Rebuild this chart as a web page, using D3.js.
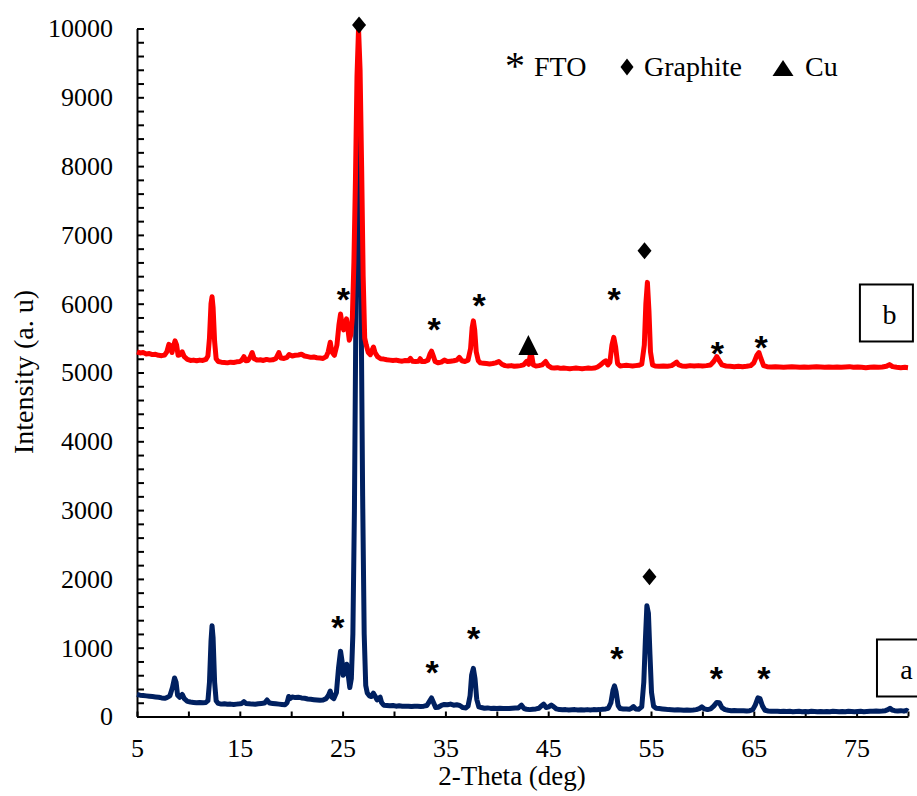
<!DOCTYPE html>
<html>
<head>
<meta charset="utf-8">
<script src="https://cdn.jsdelivr.net/npm/d3@7"></script>
<style>
  html, body { margin: 0; padding: 0; background: #fff; }
  svg { display: block; }
  .serif { font-family: "Liberation Serif", "Times New Roman", "DejaVu Serif", serif; }
</style>
</head>
<body>
<div id="chart"></div>
<script>
// XRD patterns: (a) lower trace, (b) upper trace, intensities in a.u. vs 2θ (deg)
const patternA = [
  [5.0,320],[5.3,310],[5.6,305],[5.9,300],[6.2,295],[6.5,290],[6.8,285],[7.1,280],[7.4,270],[7.7,265],
  [7.9,275],[8.2,300],[8.45,420],[8.65,560],[8.8,500],[8.95,310],[9.15,280],[9.4,320],[9.6,260],[9.9,220],
  [10.2,210],[10.5,205],[10.8,200],[11.1,205],[11.4,200],[11.7,205],[11.9,230],[12.05,500],[12.2,1100],[12.3,1320],
  [12.4,1150],[12.55,500],[12.7,230],[12.9,190],[13.2,180],[13.5,185],[13.8,178],[14.1,180],[14.4,175],[14.7,180],
  [15.0,185],[15.2,190],[15.4,215],[15.6,190],[15.9,185],[16.2,180],[16.5,178],[16.8,185],[17.1,190],[17.4,195],
  [17.65,240],[17.9,195],[18.2,190],[18.5,185],[18.8,180],[19.1,175],[19.4,170],[19.6,200],[19.75,290],[19.9,260],
  [20.1,285],[20.4,275],[20.7,280],[21.0,270],[21.3,265],[21.6,255],[21.9,250],[22.2,245],[22.5,240],[22.8,235],
  [23.1,240],[23.4,260],[23.6,300],[23.8,370],[23.95,280],[24.15,260],[24.4,350],[24.6,700],[24.8,950],[24.95,800],
  [25.05,600],[25.2,630],[25.4,760],[25.55,600],[25.7,420],[25.85,550],[26.0,1200],[26.15,3000],[26.3,6000],[26.45,8500],
  [26.55,9500],[26.65,8500],[26.8,6000],[26.95,3200],[27.1,1200],[27.25,450],[27.4,340],[27.6,300],[27.8,290],[28.0,340],
  [28.15,300],[28.35,240],[28.55,270],[28.65,280],[28.8,200],[29.0,165],[29.3,160],[29.6,155],[29.9,160],[30.2,150],
  [30.5,155],[30.8,150],[31.1,148],[31.4,150],[31.7,145],[32.0,150],[32.3,148],[32.6,145],[32.9,150],[33.2,160],
  [33.45,220],[33.65,270],[33.85,200],[34.05,130],[34.3,135],[34.6,160],[34.9,175],[35.2,170],[35.5,180],[35.8,165],
  [36.1,170],[36.4,160],[36.7,130],[37.0,125],[37.2,150],[37.4,300],[37.55,600],[37.72,700],[37.88,550],[38.05,250],
  [38.25,140],[38.5,130],[38.8,120],[39.1,125],[39.4,118],[39.7,120],[40.0,115],[40.3,120],[40.6,115],[40.9,118],
  [41.2,115],[41.5,120],[41.8,125],[42.1,125],[42.4,165],[42.65,115],[42.9,105],[43.2,100],[43.5,105],[43.8,110],
  [44.1,120],[44.3,150],[44.55,180],[44.8,130],[45.05,140],[45.3,165],[45.55,140],[45.8,110],[46.1,100],[46.4,98],
  [46.7,100],[47.0,95],[47.3,98],[47.6,100],[47.9,95],[48.2,98],[48.5,95],[48.8,100],[49.1,96],[49.4,100],
  [49.7,98],[50.0,100],[50.3,105],[50.6,110],[50.85,120],[51.1,200],[51.3,380],[51.45,445],[51.6,360],[51.8,160],
  [52.0,115],[52.3,110],[52.6,108],[52.9,105],[53.1,120],[53.3,145],[53.5,110],[53.8,105],[54.1,140],[54.3,500],
  [54.45,1100],[54.6,1610],[54.75,1500],[54.9,900],[55.05,350],[55.25,150],[55.5,120],[55.8,115],[56.1,110],[56.4,105],
  [56.7,100],[57.0,98],[57.3,95],[57.6,98],[57.9,95],[58.2,92],[58.5,95],[58.8,92],[59.1,95],[59.4,100],
  [59.7,115],[59.95,140],[60.2,110],[60.5,100],[60.8,110],[61.1,150],[61.4,205],[61.65,200],[61.9,130],[62.2,100],
  [62.5,90],[62.8,85],[63.1,88],[63.4,85],[63.7,82],[64.0,85],[64.3,80],[64.6,85],[64.9,100],[65.15,170],
  [65.4,270],[65.6,260],[65.85,150],[66.1,90],[66.4,80],[66.7,75],[67.0,78],[67.3,75],[67.6,72],[67.9,75],
  [68.2,72],[68.5,75],[68.8,70],[69.1,72],[69.4,75],[69.7,70],[70.0,72],[70.3,70],[70.6,75],[70.9,72],
  [71.2,70],[71.5,74],[71.8,70],[72.1,72],[72.4,70],[72.7,75],[73.0,72],[73.3,70],[73.6,72],[73.9,70],
  [74.2,75],[74.5,72],[74.8,70],[75.1,72],[75.4,75],[75.7,70],[76.0,72],[76.3,75],[76.6,78],[76.9,80],
  [77.2,78],[77.5,80],[77.8,85],[78.05,100],[78.25,120],[78.45,95],[78.7,85],[79.0,80],[79.3,85],[79.6,78],
  [79.85,90],[80.0,75]
];

const patternB = [
  [5.0,5300],[5.3,5285],[5.6,5290],[5.9,5270],[6.2,5275],[6.5,5260],[6.8,5265],[7.1,5250],[7.4,5245],[7.7,5255],
  [7.9,5300],[8.1,5410],[8.25,5390],[8.4,5290],[8.55,5380],[8.7,5460],[8.85,5400],[9.0,5250],[9.2,5260],[9.4,5300],
  [9.6,5230],[9.9,5190],[10.2,5175],[10.5,5180],[10.8,5170],[11.1,5180],[11.4,5175],[11.7,5190],[11.9,5240],[12.05,5500],
  [12.2,6000],[12.3,6100],[12.4,5950],[12.55,5450],[12.7,5200],[12.9,5160],[13.2,5150],[13.5,5145],[13.8,5140],[14.1,5150],
  [14.4,5145],[14.7,5155],[15.0,5160],[15.2,5180],[15.4,5230],[15.6,5170],[15.8,5175],[16.0,5220],[16.2,5290],[16.4,5200],
  [16.7,5180],[17.0,5185],[17.3,5175],[17.6,5190],[17.9,5180],[18.2,5185],[18.5,5200],[18.8,5290],[19.0,5210],[19.3,5205],
  [19.6,5220],[19.8,5260],[20.1,5240],[20.4,5250],[20.7,5255],[21.0,5265],[21.3,5240],[21.6,5230],[21.9,5220],[22.2,5225],
  [22.5,5215],[22.8,5210],[23.1,5205],[23.4,5230],[23.6,5300],[23.8,5440],[23.95,5300],[24.2,5250],[24.45,5400],[24.65,5700],
  [24.8,5850],[24.95,5700],[25.1,5620],[25.25,5700],[25.38,5780],[25.5,5650],[25.65,5470],[25.8,5550],[25.95,5800],[26.1,6600],
  [26.25,7800],[26.4,9300],[26.55,10000],[26.7,9400],[26.85,8000],[27.0,6400],[27.15,5500],[27.3,5400],[27.5,5290],[27.7,5260],
  [27.85,5320],[28.0,5370],[28.15,5290],[28.4,5230],[28.7,5200],[29.0,5195],[29.3,5185],[29.6,5180],[29.9,5175],[30.2,5180],
  [30.5,5170],[30.8,5165],[31.1,5175],[31.4,5170],[31.6,5205],[31.8,5165],[32.1,5160],[32.4,5165],[32.55,5200],[32.7,5160],
  [33.0,5160],[33.3,5180],[33.5,5270],[33.65,5310],[33.8,5250],[34.0,5160],[34.3,5140],[34.6,5150],[34.9,5180],[35.2,5160],
  [35.5,5165],[35.8,5170],[36.1,5180],[36.35,5220],[36.6,5170],[36.9,5160],[37.2,5180],[37.45,5350],[37.6,5650],[37.72,5750],
  [37.85,5620],[38.0,5300],[38.2,5170],[38.4,5140],[38.7,5135],[39.0,5130],[39.3,5125],[39.6,5130],[39.9,5140],[40.2,5160],
  [40.5,5120],[40.8,5100],[41.1,5095],[41.4,5100],[41.7,5090],[42.0,5095],[42.3,5100],[42.6,5110],[42.9,5160],[43.1,5120],
  [43.25,5250],[43.4,5240],[43.55,5110],[43.8,5095],[44.1,5100],[44.4,5110],[44.75,5160],[45.0,5100],[45.3,5070],[45.6,5065],
  [45.9,5070],[46.2,5060],[46.5,5065],[46.8,5060],[47.1,5055],[47.4,5060],[47.7,5065],[48.0,5060],[48.3,5055],[48.6,5060],
  [48.9,5065],[49.2,5060],[49.5,5065],[49.8,5080],[50.1,5110],[50.4,5150],[50.6,5170],[50.8,5110],[51.0,5150],[51.2,5400],
  [51.38,5510],[51.55,5380],[51.75,5130],[52.0,5095],[52.3,5100],[52.6,5105],[52.9,5100],[53.2,5095],[53.5,5100],[53.8,5105],
  [54.1,5120],[54.35,5400],[54.5,6000],[54.65,6310],[54.8,5900],[54.95,5300],[55.15,5110],[55.4,5095],[55.8,5090],[56.2,5095],
  [56.6,5090],[57.0,5100],[57.3,5130],[57.5,5150],[57.7,5110],[58.0,5095],[58.4,5090],[58.8,5100],[59.2,5095],[59.6,5100],
  [60.0,5095],[60.4,5100],[60.8,5110],[61.1,5160],[61.4,5230],[61.65,5170],[61.9,5110],[62.3,5095],[62.7,5090],[63.1,5085],
  [63.5,5090],[63.9,5085],[64.3,5090],[64.7,5100],[65.0,5140],[65.3,5250],[65.5,5290],[65.7,5200],[65.95,5100],[66.3,5085],
  [66.7,5080],[67.1,5085],[67.5,5080],[67.9,5075],[68.3,5080],[68.7,5085],[69.1,5080],[69.5,5075],[69.9,5080],[70.3,5075],
  [70.7,5080],[71.1,5085],[71.5,5080],[71.9,5075],[72.3,5080],[72.7,5075],[73.1,5080],[73.5,5075],[73.9,5080],[74.3,5085],
  [74.7,5075],[75.1,5080],[75.5,5075],[75.9,5070],[76.3,5075],[76.7,5080],[77.1,5075],[77.5,5080],[77.9,5090],[78.2,5115],
  [78.5,5085],[78.9,5075],[79.3,5070],[79.7,5075],[80.0,5070]
];

// phase markers placed above the reflections: [2θ, intensity level]
const ftoMarksA = [[24.53,1403],[33.71,749],[37.75,1247],[51.68,959],[61.35,659],[65.97,659]];
const graphiteMarksA = [[54.85,2032]];
const ftoMarksB = [[25.07,6174],[33.9,5738],[38.27,6083],[51.41,6170],[61.46,5381],[65.7,5477]];
const graphiteMarksB = [[26.6,10050],[54.37,6769]];
const cuMarksB = [[43.07,5400]];

// sample tags: [label, 2θ, intensity level]
const sampleTags = [["b",77.9,5865],["a",79.56,705]];

const xTickValues = d3.range(5, 80.1, 5);
const xTickLabels = [5, 15, 25, 35, 45, 55, 65, 75];
const yTickValues = d3.range(0, 10001, 200);
const yTickLabels = d3.range(0, 10001, 1000);

const legendItems = [
  { sym: "star", label: "FTO" },
  { sym: "diamond", label: "Graphite" },
  { sym: "triangle", label: "Cu" }
];

const W = 917, H = 796;

const svg = d3.select("#chart").append("svg")
  .attr("width", W).attr("height", H)
  .style("background", "#fff");

const x = d3.scaleLinear().domain([5, 80]).range([137, 908]);
const y = d3.scaleLinear().domain([0, 10000]).range([716.5, 28.5]);

// axes
const yAxis = d3.axisLeft(y)
  .tickValues(yTickValues)
  .tickSizeInner(-7).tickSizeOuter(0).tickPadding(24)
  .tickFormat(d => yTickLabels.includes(d) ? String(d) : "");
const gy = svg.append("g").attr("transform", `translate(${x(5)},0)`).call(yAxis);

const xAxis = d3.axisBottom(x)
  .tickValues(xTickValues)
  .tickSizeInner(-5).tickSizeOuter(0).tickPadding(22)
  .tickFormat(d => xTickLabels.includes(d) ? String(d) : "");
const gx = svg.append("g").attr("transform", `translate(0,${y(0)})`).call(xAxis);

[gx, gy].forEach(g => {
  g.attr("font-family", null).attr("font-size", null);
  g.select(".domain").attr("stroke", "#000").attr("stroke-width", 2);
  g.selectAll(".tick line").attr("stroke", "#000").attr("stroke-width", 2);
  g.selectAll(".tick text")
    .attr("class", "serif")
    .attr("fill", "#000")
    .attr("font-size", 26);
});

// traces
const line = d3.line().x(d => x(d[0])).y(d => y(d[1]));

svg.append("path").datum(patternA)
  .attr("d", line)
  .attr("fill", "none")
  .attr("stroke", "#002060")
  .attr("stroke-width", 5)
  .attr("stroke-linejoin", "round");

svg.append("path").datum(patternB)
  .attr("d", line)
  .attr("fill", "none")
  .attr("stroke", "#ff0000")
  .attr("stroke-width", 5)
  .attr("stroke-linejoin", "round");

// marker shapes
function diamondPath(cx, cy, w, h) {
  const p = d3.path();
  p.moveTo(cx, cy - h / 2); p.lineTo(cx + w / 2, cy);
  p.lineTo(cx, cy + h / 2); p.lineTo(cx - w / 2, cy); p.closePath();
  return p.toString();
}
function trianglePath(cx, cy, w, h) {
  const p = d3.path();
  p.moveTo(cx, cy - h / 2); p.lineTo(cx + w / 2, cy + h / 2);
  p.lineTo(cx - w / 2, cy + h / 2); p.closePath();
  return p.toString();
}
function addStar(g, cx, cy) {
  g.append("text")
    .attr("x", cx).attr("y", cy + 19)
    .attr("text-anchor", "middle")
    .attr("font-family", "Liberation Sans, Arial, sans-serif")
    .attr("font-weight", "bold")
    .attr("font-size", 34)
    .attr("fill", "#000")
    .text("*");
}

const marks = svg.append("g");
[...ftoMarksA, ...ftoMarksB].forEach(d => addStar(marks, x(d[0]), y(d[1])));
[...graphiteMarksA, ...graphiteMarksB].forEach(d =>
  marks.append("path").attr("d", diamondPath(x(d[0]), y(d[1]), 14, 17)).attr("fill", "#000"));
cuMarksB.forEach(d =>
  marks.append("path").attr("d", trianglePath(x(d[0]), y(d[1]), 20, 20)).attr("fill", "#000"));

// legend
const legend = svg.append("g");
const legendPos = [
  { symX: 515, textX: 534 },
  { symX: 627, textX: 644 },
  { symX: 783, textX: 805 }
];
const legendBaseline = 76;
legendItems.forEach((it, i) => {
  const p = legendPos[i];
  if (it.sym === "star") {
    legend.append("text")
      .attr("class", "serif")
      .attr("x", p.symX).attr("y", 79)
      .attr("text-anchor", "middle")
      .attr("font-size", 40)
      .attr("fill", "#000")
      .text("*");
  } else if (it.sym === "diamond") {
    legend.append("path").attr("d", diamondPath(p.symX, 67, 13, 17)).attr("fill", "#000");
  } else {
    legend.append("path").attr("d", trianglePath(p.symX, 68, 21, 16)).attr("fill", "#000");
  }
  legend.append("text")
    .attr("class", "serif")
    .attr("x", p.textX).attr("y", legendBaseline)
    .attr("font-size", 28)
    .attr("fill", "#000")
    .text(it.label);
});

// sample tags in boxes
sampleTags.forEach(([lab, t, v]) => {
  const cx = x(t), cy = y(v);
  const g = svg.append("g");
  g.append("rect")
    .attr("x", cx - 26.5).attr("y", cy - 28.5)
    .attr("width", 53).attr("height", 57)
    .attr("fill", "#fff").attr("stroke", "#000").attr("stroke-width", 2);
  g.append("text")
    .attr("class", "serif")
    .attr("x", cx + 3).attr("y", cy + 11)
    .attr("text-anchor", "middle")
    .attr("font-size", 28)
    .attr("fill", "#000")
    .text(lab);
});

// axis titles
svg.append("text")
  .attr("class", "serif")
  .attr("transform", "translate(33,372) rotate(-90)")
  .attr("text-anchor", "middle")
  .attr("font-size", 28)
  .attr("fill", "#000")
  .text("Intensity (a. u)");

svg.append("text")
  .attr("class", "serif")
  .attr("x", 512).attr("y", 785)
  .attr("text-anchor", "middle")
  .attr("font-size", 27)
  .attr("fill", "#000")
  .text("2-Theta (deg)");
</script>
</body>
</html>
